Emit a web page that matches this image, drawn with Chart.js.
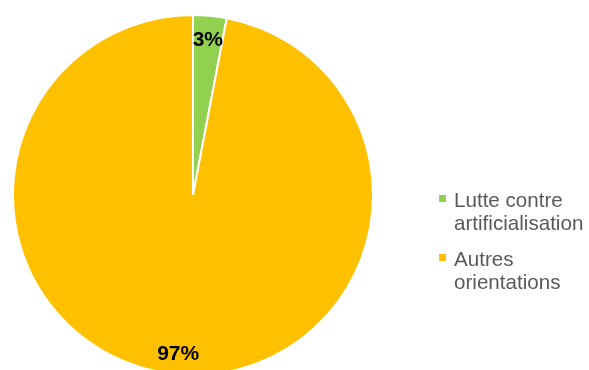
<!DOCTYPE html>
<html>
<head>
<meta charset="utf-8">
<script src="https://cdn.jsdelivr.net/npm/chart.js@4/dist/chart.umd.min.js"></script>
<style>
  html, body { margin: 0; padding: 0; background: #ffffff; overflow: hidden; }
  #wrap { width: 589px; height: 370px; overflow: hidden; }
</style>
</head>
<body>
<div id="wrap"><canvas id="c" width="589" height="377"></canvas></div>
<script>
// Share of actions by orientation
const categories = ["Lutte contre artificialisation", "Autres orientations"];
const legendLines = [["Lutte contre", "artificialisation"], ["Autres", "orientations"]];
const shares = [3, 97];
const sliceColors = ["#92D050", "#FFC000"];

const FONT = "'Liberation Sans', Arial, sans-serif";

// Percent labels placed at mid-angle, near the outer edge
const sliceLabels = {
  id: "sliceLabels",
  afterDatasetsDraw(chart) {
    const ctx = chart.ctx;
    const meta = chart.getDatasetMeta(0);
    const data = chart.data.datasets[0].data;
    ctx.save();
    ctx.font = "bold 21px " + FONT;
    ctx.fillStyle = "#000000";
    ctx.textAlign = "center";
    ctx.textBaseline = "alphabetic";
    meta.data.forEach((arc, i) => {
      const p = arc.getProps(["x", "y", "startAngle", "endAngle", "outerRadius"], true);
      const mid = (p.startAngle + p.endAngle) / 2;
      const r = p.outerRadius * 0.875;
      const x = p.x + Math.cos(mid) * r;
      const y = p.y + Math.sin(mid) * r;
      ctx.fillText(data[i] + "%", x, y + 8);
    });
    ctx.restore();
  }
};

// Legend on the right with wrapped entries
const sideLegend = {
  id: "sideLegend",
  afterDraw(chart) {
    const ctx = chart.ctx;
    const colors = chart.data.datasets[0].backgroundColor;
    ctx.save();
    ctx.font = "20.6px " + FONT;
    ctx.textAlign = "left";
    ctx.textBaseline = "alphabetic";
    const x0 = 439, textX = 454;
    const baselines = [207, 266];
    legendLines.forEach((lines, i) => {
      ctx.fillStyle = colors[i];
      ctx.fillRect(x0, baselines[i] - 12, 7, 7);
      ctx.fillStyle = "#595959";
      lines.forEach((t, j) => ctx.fillText(t, textX, baselines[i] + j * 22.5));
    });
    ctx.restore();
  }
};

new Chart(document.getElementById("c"), {
  type: "pie",
  data: {
    labels: categories,
    datasets: [{
      data: shares,
      backgroundColor: sliceColors,
      borderColor: "#ffffff",
      borderWidth: 2
    }]
  },
  options: {
    responsive: false,
    animation: false,
    layout: { padding: { left: 12, top: 13, right: 215, bottom: 0 } },
    plugins: {
      legend: { display: false },
      tooltip: { enabled: false }
    }
  },
  plugins: [sliceLabels, sideLegend]
});
</script>
</body>
</html>
